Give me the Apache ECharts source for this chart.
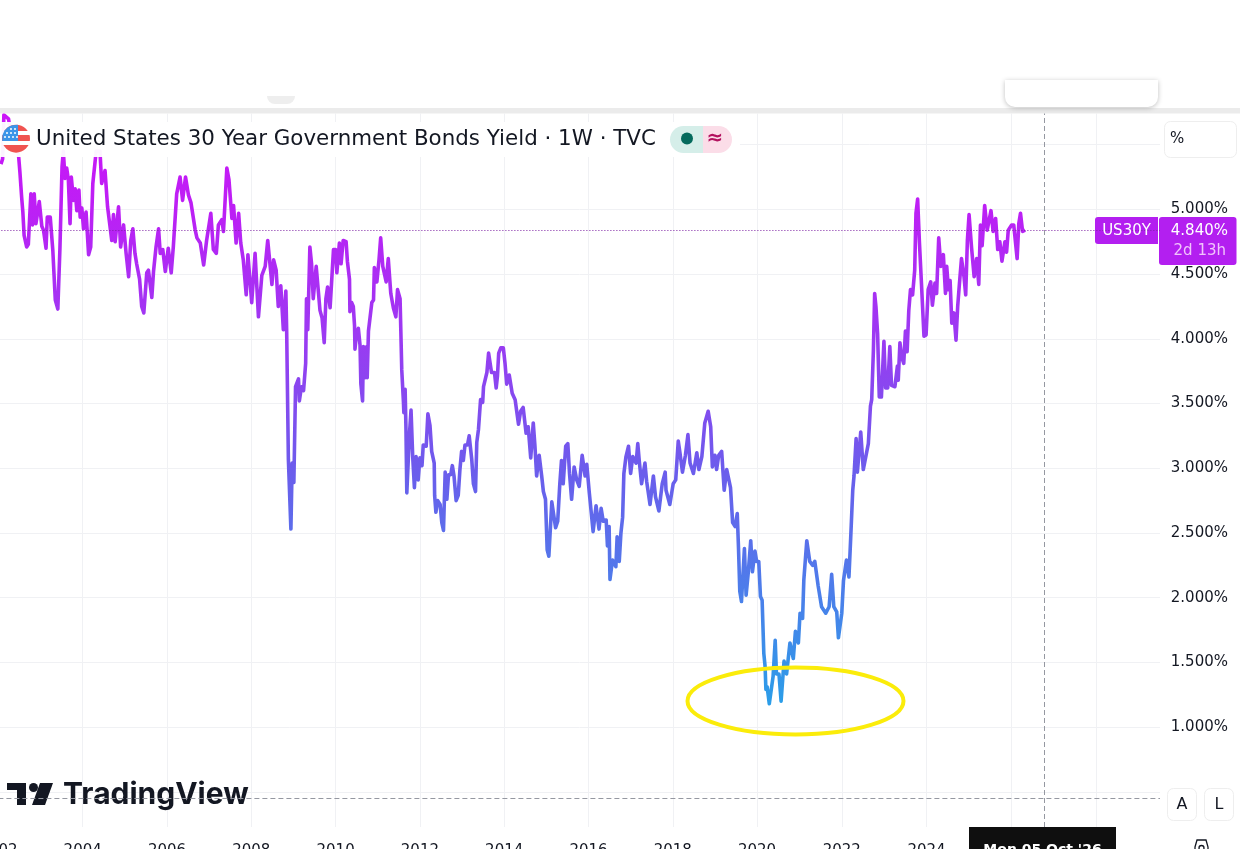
<!DOCTYPE html>
<html><head><meta charset="utf-8">
<style>html,body{margin:0;padding:0;background:#fff;overflow:hidden}#c{width:1240px;height:849px}</style>
<script src="https://cdn.jsdelivr.net/npm/echarts@6/dist/echarts.min.js"></script>
</head><body><div id="c"></div>
<script>
const titleText = 'United States 30 Year Government Bonds Yield · 1W · TVC';
const yearTicks = [2002,2004,2006,2008,2010,2012,2014,2016,2018,2020,2022.01,2024.02,2026.04,2028.05];
const yieldLabels = [1,1.5,2,2.5,3,3.5,4,4.5,5];
const yieldGrid = [0.5,1,1.5,2,2.5,3,3.5,4,4.5,5,5.5];
const lastPrice = 4.84;
const crossYear = 2026.81;
const crossYield = 0.45;
const years = [2002.06,2002.10,2002.13,2002.24,2002.32,2002.40,2002.48,2002.51,2002.55,2002.58,2002.61,2002.67,2002.71,2002.77,2002.81,2002.85,2002.89,2002.97,2003.03,2003.07,2003.13,2003.16,2003.23,2003.29,2003.35,2003.41,2003.46,2003.51,2003.54,2003.58,2003.62,2003.66,2003.70,2003.73,2003.78,2003.82,2003.86,2003.91,2003.94,2003.98,2004.02,2004.08,2004.14,2004.19,2004.24,2004.32,2004.41,2004.45,2004.53,2004.59,2004.69,2004.73,2004.77,2004.85,2004.90,2004.97,2005.03,2005.09,2005.14,2005.19,2005.24,2005.28,2005.35,2005.40,2005.45,2005.52,2005.56,2005.64,2005.68,2005.74,2005.80,2005.84,2005.90,2005.96,2006.03,2006.10,2006.15,2006.23,2006.31,2006.37,2006.44,2006.51,2006.57,2006.67,2006.71,2006.79,2006.87,2006.94,2007.04,2007.10,2007.17,2007.22,2007.30,2007.34,2007.42,2007.47,2007.54,2007.58,2007.64,2007.70,2007.75,2007.81,2007.88,2007.92,2008.01,2008.09,2008.17,2008.25,2008.33,2008.39,2008.43,2008.49,2008.53,2008.59,2008.64,2008.70,2008.76,2008.82,2008.84,
2008.88,2008.92,2008.94,2008.97,2009.01,2009.05,2009.12,2009.14,2009.19,2009.24,2009.29,2009.31,2009.34,2009.39,2009.43,2009.47,2009.54,2009.58,2009.63,2009.68,2009.73,2009.77,2009.81,2009.87,2009.92,2009.95,2010.00,2010.03,2010.09,2010.13,2010.18,2010.25,2010.28,2010.33,2010.34,2010.38,2010.42,2010.45,2010.46,2010.50,2010.54,2010.58,2010.60,2010.64,2010.66,2010.70,2010.74,2010.75,2010.78,2010.82,2010.86,2010.90,2010.92,2010.98,2011.03,2011.07,2011.12,2011.20,2011.25,2011.31,2011.37,2011.43,2011.47,2011.51,2011.53,2011.57,2011.61,2011.62,2011.65,2011.67,2011.69,2011.75,2011.79,2011.83,2011.87,2011.91,2011.96,2012.00,2012.05,2012.08,2012.15,2012.19,2012.24,2012.28,2012.34,2012.35,2012.38,2012.42,2012.48,2012.52,2012.56,2012.60,2012.64,2012.68,2012.73,2012.77,2012.81,2012.86,2012.91,2012.95,2012.99,2013.03,2013.07,2013.13,2013.17,2013.23,2013.27,2013.32,2013.35,2013.39,2013.44,2013.49,2013.51,2013.59,2013.63,2013.67,2013.70,2013.77,2013.81,2013.84,2013.87,2013.92,2013.98,2014.02,2014.06,2014.12,2014.19,2014.26,2014.34,
2014.39,2014.45,2014.52,2014.57,2014.63,2014.69,2014.73,2014.77,2014.83,2014.89,2014.93,2014.98,2015.02,2015.06,2015.13,2015.17,2015.22,2015.27,2015.32,2015.36,2015.40,2015.46,2015.51,2015.55,2015.60,2015.66,2015.72,2015.78,2015.85,2015.92,2015.96,2016.02,2016.11,2016.18,2016.25,2016.30,2016.35,2016.42,2016.45,2016.49,2016.51,2016.57,2016.65,2016.68,2016.73,2016.77,2016.81,2016.84,2016.89,2016.95,2017.00,2017.05,2017.13,2017.17,2017.21,2017.26,2017.34,2017.38,2017.46,2017.54,2017.59,2017.67,2017.75,2017.82,2017.84,2017.93,2018.01,2018.07,2018.13,2018.17,2018.23,2018.30,2018.36,2018.41,2018.49,2018.57,2018.62,2018.69,2018.76,2018.84,2018.90,2018.94,2019.00,2019.04,2019.09,2019.16,2019.22,2019.28,2019.37,2019.42,2019.48,2019.53,2019.56,
2019.59,2019.63,2019.70,2019.74,2019.79,2019.85,2019.89,2019.95,2019.99,2020.04,2020.08,2020.12,2020.16,2020.19,2020.21,2020.24,2020.29,2020.38,2020.43,2020.46,2020.52,2020.57,2020.64,2020.70,2020.78,2020.86,2020.91,2020.98,2021.02,2021.08,2021.11,2021.18,2021.25,2021.32,2021.37,2021.45,2021.53,2021.63,2021.71,2021.77,2021.82,2021.89,2021.93,2022.01,2022.05,2022.12,2022.18,2022.22,
2022.27,2022.30,2022.35,2022.38,2022.46,2022.52,2022.56,2022.64,2022.69,2022.72,2022.76,2022.79,2022.82,2022.86,2022.90,2022.95,2023.01,2023.05,2023.10,2023.15,2023.19,2023.27,2023.33,2023.35,2023.39,2023.43,2023.48,2023.52,2023.56,2023.60,2023.64,2023.69,2023.74,2023.77,2023.81,2023.85,2023.90,2023.96,2024.01,2024.06,2024.12,2024.16,2024.22,2024.26,2024.31,2024.36,2024.42,2024.47,2024.50,2024.54,2024.58,2024.62,2024.67,2024.72,2024.76,2024.80,2024.85,2024.91,2024.95,2024.99,2025.03,2025.09,2025.15,2025.21,2025.26,2025.30,2025.34,2025.40,2025.46,2025.55,2025.60,2025.66,2025.71,2025.76,2025.81,2025.88,2025.92,2025.96,2026.04,2026.09,2026.17,2026.21,2026.25,2026.30,2026.36];
const yields = [5.35,5.39,5.73,5.70,5.53,5.58,5.41,5.29,5.10,4.98,4.80,4.71,4.73,5.12,4.88,5.12,4.89,5.06,4.87,4.84,4.70,4.94,4.94,4.69,4.30,4.23,4.70,5.33,5.45,5.24,5.32,5.23,4.89,5.25,5.07,5.16,4.99,5.15,4.94,5.01,4.85,4.98,4.65,4.71,5.20,5.45,5.45,5.20,5.30,5.02,4.76,4.96,4.75,5.02,4.71,4.88,4.66,4.48,4.76,4.85,4.66,4.58,4.46,4.25,4.20,4.51,4.53,4.32,4.52,4.71,4.85,4.66,4.69,4.52,4.70,4.51,4.71,5.12,5.25,5.07,5.25,5.11,5.05,4.84,4.78,4.74,4.57,4.76,4.97,4.69,4.66,4.88,4.92,4.83,5.32,5.23,4.93,5.03,4.74,4.97,4.74,4.61,4.34,4.65,4.28,4.66,4.17,4.49,4.56,4.76,4.76,4.42,4.61,4.53,4.25,4.41,4.07,4.37,4.05,
3.07,3.08,2.53,3.04,2.89,3.63,3.69,3.52,3.63,3.60,3.81,4.31,4.07,4.71,4.58,4.31,4.56,4.55,4.22,4.16,3.97,4.31,4.40,4.24,4.52,4.69,4.69,4.51,4.74,4.58,4.76,4.75,4.60,4.46,4.21,4.28,4.25,4.10,3.92,4.05,4.08,3.95,3.65,3.52,3.94,3.70,3.94,3.70,4.06,4.07,4.28,4.30,4.55,4.44,4.61,4.78,4.56,4.44,4.62,4.35,4.24,4.17,4.38,4.38,4.31,3.76,3.51,3.43,3.61,3.30,2.81,3.25,3.45,3.09,2.85,3.09,2.91,3.08,3.02,3.18,3.17,3.42,3.33,3.13,3.04,2.79,2.66,2.75,2.72,2.58,2.52,2.97,2.76,2.95,2.95,3.02,2.94,2.75,2.79,2.99,3.13,3.06,3.18,3.18,3.25,3.07,2.88,2.82,3.20,3.30,3.53,3.51,3.63,3.74,3.89,3.89,3.74,3.74,3.62,3.71,3.89,3.93,3.93,3.81,3.65,3.72,3.58,3.53,3.34,
3.44,3.47,3.27,3.32,3.08,3.35,3.17,2.94,3.10,2.94,2.82,2.76,2.37,2.32,2.74,2.73,2.54,2.59,2.88,3.06,2.88,3.17,3.19,2.96,2.76,3.01,2.91,2.86,3.10,2.94,3.03,2.81,2.51,2.71,2.53,2.69,2.59,2.60,2.40,2.55,2.14,2.29,2.24,2.47,2.28,2.50,2.62,2.96,3.09,3.17,2.96,3.09,3.04,3.19,3.04,2.88,3.04,2.90,2.72,2.94,2.78,2.67,2.88,2.97,2.83,2.72,2.88,2.91,3.21,3.12,2.97,3.10,3.26,3.04,2.96,3.12,2.99,3.09,3.35,3.44,3.32,3.01,3.10,2.99,3.10,3.13,2.83,2.99,2.85,2.58,2.55,2.65,2.38,
2.05,1.97,2.38,2.02,2.19,2.44,2.20,2.36,2.28,2.28,2.01,1.98,1.57,1.47,1.29,1.31,1.18,1.39,1.67,1.41,1.41,1.20,1.51,1.41,1.65,1.53,1.74,1.65,1.88,1.84,2.14,2.44,2.28,2.25,2.28,2.09,1.93,1.88,1.93,2.18,1.93,1.89,1.69,1.88,2.13,2.29,2.16,2.45,
2.83,2.94,3.23,2.97,3.28,2.99,2.99,3.19,3.48,3.53,3.91,4.35,4.25,4.04,3.55,3.55,3.98,3.62,3.62,3.94,3.64,3.63,3.79,3.68,3.97,3.86,3.81,4.06,3.90,4.22,4.38,4.34,4.53,4.97,5.08,4.76,4.43,4.02,4.03,4.38,4.44,4.26,4.43,4.35,4.78,4.56,4.65,4.35,4.56,4.38,4.45,4.12,4.20,3.99,4.25,4.42,4.62,4.48,4.34,4.76,4.96,4.70,4.48,4.62,4.42,4.88,4.72,5.03,4.84,4.99,4.83,4.93,4.69,4.75,4.60,4.75,4.67,4.84,4.88,4.88,4.62,4.89,4.97,4.83,4.84];

const font = '"DejaVu Sans", sans-serif';
const ink = '#131722';
const tagColor = '#b31ff0';
const gridColor = '#f0f1f4';

const gfx = [];
function R(x,y,w,h,fill,o){o=o||{};gfx.push({type:'rect',silent:true,z:o.z===undefined?5:o.z,shape:{x,y,width:w,height:h,r:o.r||0},style:{fill,stroke:o.stroke,lineWidth:o.stroke?1:0,shadowBlur:o.blur||0,shadowColor:o.shadow,shadowOffsetY:o.dy||0}});}
function T(x,y,text,size,color,o){o=o||{};gfx.push({type:'text',silent:true,z:o.z===undefined?6:o.z,x,y,style:{text,fill:color,font:(o.weight||'normal')+' '+size+'px '+(o.family||font),align:o.align||'left',verticalAlign:'middle'}});}

// top chrome
R(0,0,1240,108,'#ffffff');
R(0,108,1240,5.5,'#ebebeb');
R(267,96,28,8,'#eeeeee',{r:[0,0,10,10]});
R(1005,80,153,27,'#ffffff',{r:[0,0,10,10],blur:5,shadow:'rgba(0,0,0,0.25)',dy:1});
// right scale side
R(1164.5,121.5,72,36,'#ffffff',{r:6,stroke:'#eeeeee'});
T(1170,139,'%',15,ink);
R(1167.5,788.5,29,32,'#ffffff',{r:6,stroke:'#eeeeee'});
T(1182,805,'A',16,ink,{align:'center'});
R(1204.5,788.5,29,32,'#ffffff',{r:6,stroke:'#eeeeee'});
T(1219,805,'L',16,ink,{align:'center'});
gfx.push({type:'polygon',silent:true,z:6,shape:{points:[[1195,847],[1197,840],[1206,840],[1208,847],[1208,852],[1195,852]]},style:{fill:'none',stroke:ink,lineWidth:1.3}});
gfx.push({type:'circle',silent:true,z:6,shape:{cx:1201.5,cy:848,r:2.5},style:{fill:'none',stroke:ink,lineWidth:1.3}});
// price tags
R(1095,217,63,27,tagColor,{r:[3,0,0,3]});
T(1126.5,231,'US30Y',15,'#ffffff',{align:'center'});
R(1159,217,77.5,48,tagColor,{r:3});
T(1228,231,'4.840%',15,'#ffffff',{align:'right'});
T(1226,251,'2d 13h',15,'#f1c4fb',{align:'right'});
// date tag
R(969,827,147,30,'#0f0f0f');
T(1042.5,850,"Mon 05 Oct '26",14,'#ffffff',{align:'center',weight:'bold'});
// legend strip
R(0,122,740,35,'rgba(255,255,255,0.95)');
T(36,139,titleText,21.4,ink);
gfx.push({type:'circle',silent:true,z:6,shape:{cx:16,cy:138.7,r:14},style:{fill:{type:'linear',x:0,y:0,x2:0,y2:1,colorStops:[
 {offset:0,color:'#f05350'},{offset:0.22,color:'#f05350'},{offset:0.22,color:'#ffffff'},{offset:0.36,color:'#ffffff'},{offset:0.36,color:'#f05350'},{offset:0.58,color:'#f05350'},{offset:0.58,color:'#ffffff'},{offset:0.72,color:'#ffffff'},{offset:0.72,color:'#f05350'},{offset:1,color:'#f05350'}]}}});
gfx.push({type:'polygon',silent:true,z:6,shape:{points:[[2.2,141],[2.5,135],[4.5,130.6],[8,127.2],[12,125.3],[18,124.84],[18,141]]},style:{fill:'#3d95e8'}});
[[11,129],[15,129],[7,133],[11,133],[15,133],[5,137],[9,137],[13,137],[17,137]].forEach(p=>gfx.push({type:'circle',silent:true,z:7,shape:{cx:p[0],cy:p[1],r:1},style:{fill:'#ffffff'}}));
R(670,126,33,27,'#d5eee9',{r:[13.5,0,0,13.5]});
R(703,126,29,27,'#fbdde8',{r:[0,13.5,13.5,0]});
gfx.push({type:'circle',silent:true,z:6,shape:{cx:687,cy:138.5,r:6},style:{fill:'#046a5c'}});
T(715,139,'≈',20,'#b3125f',{align:'center',weight:'bold'});
// logo (under the crosshair)
gfx.push({type:'polygon',silent:true,z:1,shape:{points:[[7,783],[26,783],[26,805],[17,805],[17,790],[7,790]]},style:{fill:ink}});
gfx.push({type:'circle',silent:true,z:1,shape:{cx:33.5,cy:787.5,r:4.5},style:{fill:ink}});
gfx.push({type:'polygon',silent:true,z:1,shape:{points:[[40,783],[53,783],[45,805],[32,805]]},style:{fill:ink}});
T(63,795,'TradingView',30,ink,{z:1,family:'Inter, sans-serif',weight:'700'});
// annotation
gfx.push({type:'ellipse',silent:true,z:5,shape:{cx:795.5,cy:701,rx:108,ry:33.5},style:{fill:'none',stroke:'#fbec0a',lineWidth:4}});

const chart = echarts.init(document.getElementById('c'),null,{renderer:'canvas'});
chart.setOption({
  animation:false,
  backgroundColor:'#ffffff',
  grid:{left:-1.6,top:113.5,width:1161.6,height:713.5,containLabel:false,outerBoundsMode:'none'},
  xAxis:{type:'value',min:2002,max:2029.56,
    axisLine:{show:false},
    axisTick:{show:false,customValues:yearTicks},
    axisLabel:{customValues:yearTicks,formatter:v=>String(Math.floor(v)),color:ink,fontFamily:font,fontSize:15,margin:17,hideOverlap:false},
    splitLine:{show:true,lineStyle:{color:gridColor,width:1}}},
  yAxis:{type:'value',position:'right',min:0.228,max:5.741,
    axisLine:{show:false},
    axisTick:{show:false,customValues:yieldGrid},
    axisLabel:{customValues:yieldLabels,formatter:v=>v.toFixed(3)+'%',color:ink,fontFamily:font,fontSize:15,align:'right',margin:68},
    splitLine:{show:true,lineStyle:{color:gridColor,width:1}}},
  graphic:{elements:gfx},
  series:[{type:'line',name:'US30Y',showSymbol:false,symbol:'none',sampling:'none',smooth:false,
    data:years.map((y,i)=>[y,yields[i]]),
    lineStyle:{width:3.6,join:'round',color:{type:'linear',x:0,y:0,x2:0,y2:1,colorStops:[
      {offset:0,color:'#cc14f8'},{offset:0.16,color:'#bd1ff5'},{offset:0.38,color:'#9b3af2'},{offset:0.6,color:'#6c5cec'},{offset:0.82,color:'#4a80ea'},{offset:1,color:'#2a9ee8'}]}},
    markLine:{silent:true,symbol:'none',animation:false,label:{show:false},precision:3,
      data:[
        {yAxis:lastPrice,lineStyle:{color:'#7b1fa2',type:[1,2],width:1}},
        {xAxis:crossYear,lineStyle:{color:'#9598a1',type:[5,3],width:1}},
        {yAxis:crossYield,lineStyle:{color:'#9598a1',type:[5,3],width:1}}
      ]}
  }]
});
</script></body></html>
